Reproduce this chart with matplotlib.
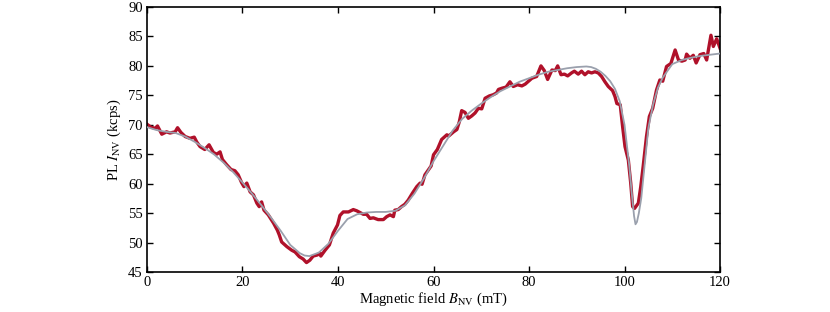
import matplotlib
matplotlib.use('Agg')
import matplotlib.pyplot as plt

plt.rcParams['font.family'] = ['Liberation Serif', 'DejaVu Serif']
plt.rcParams['mathtext.fontset'] = 'stix'

# ── Measured PL (red) ─────────────────────────────────────────────────────────
b_meas = [0.0, 0.8, 1.7, 2.2, 3.1, 4.1, 4.8, 5.9, 6.4, 7.1, 8.0, 9.0, 9.9, 10.4,
          11.1, 12.1, 13.0, 13.9, 14.6, 15.3, 15.8, 16.7, 17.6, 18.4, 19.1, 19.8,
          20.3, 20.9, 21.6, 22.3, 23.0, 23.5, 24.0, 24.5, 25.4, 26.5, 27.3, 27.7,
          28.2, 29.3, 30.3, 31.0, 31.9, 32.7, 33.4, 34.1, 34.8, 35.7, 36.2, 36.4,
          37.3, 38.2, 39.0, 39.9, 40.4, 41.1, 42.2, 43.2, 43.9, 44.6, 45.3, 46.0,
          46.7, 47.4, 48.4, 49.5, 50.2, 50.9, 51.6, 51.9, 52.6, 53.3, 54.0, 54.7,
          55.6, 56.5, 57.2, 57.6, 58.2, 58.9, 59.5, 60.0, 60.8, 61.7, 62.8, 63.2,
          64.2, 64.9, 65.4, 65.9, 66.6, 67.3, 68.0, 68.7, 69.4, 70.1, 70.8, 71.7,
          72.5, 73.2, 73.6, 74.3, 75.2, 76.0, 76.7, 77.6, 78.5, 79.2, 79.9, 80.6,
          81.6, 82.5, 83.2, 83.9, 84.8, 85.5, 86.0, 86.7, 87.4, 88.1, 88.9, 89.5,
          90.3, 91.0, 91.7, 92.4, 93.1, 93.8, 94.5, 95.2, 95.9, 96.6, 97.5, 98.0,
          98.4, 99.1, 99.6, 100.1, 100.8, 101.3, 101.7, 102.1, 102.9, 103.4, 103.9,
          104.6, 105.2, 105.9, 106.7, 107.4, 108.0, 108.8, 109.7, 110.6, 111.3,
          112.0, 112.7, 113.0, 113.7, 114.4, 115.0, 115.8, 116.6, 117.2, 118.1,
          118.6, 119.3, 120.0]
pl_meas = [70.1, 69.6, 69.4, 69.8, 68.4, 68.8, 68.6, 68.8, 69.5, 68.7, 68.0, 67.7,
           67.9, 67.1, 66.3, 65.8, 66.6, 65.3, 65.0, 65.4, 64.1, 63.2, 62.4, 62.2,
           61.5, 60.2, 59.5, 60.1, 58.6, 58.1, 56.7, 56.1, 56.9, 55.5, 54.7, 53.3,
           52.1, 51.3, 50.1, 49.3, 48.7, 48.4, 47.6, 47.2, 46.6, 47.0, 47.7, 47.9,
           48.2, 47.7, 48.7, 49.6, 51.6, 53.0, 54.6, 55.2, 55.2, 55.6, 55.4, 55.1,
           54.8, 54.8, 54.1, 54.2, 53.9, 53.9, 54.4, 54.7, 54.4, 55.5, 55.6, 56.1,
           56.5, 57.2, 58.4, 59.5, 60.1, 59.9, 61.5, 62.3, 63.0, 64.9, 65.8, 67.5,
           68.3, 68.1, 68.8, 69.2, 70.5, 72.4, 72.1, 71.1, 71.5, 72.0, 72.8, 72.7,
           74.5, 74.9, 75.1, 75.4, 76.0, 76.2, 76.4, 77.3, 76.5, 76.8, 76.6, 76.9,
           77.4, 77.9, 78.2, 80.0, 79.2, 77.7, 79.3, 79.2, 80.0, 78.5, 78.6, 78.3,
           78.8, 79.1, 78.6, 79.1, 78.5, 79.0, 78.8, 79.0, 78.8, 78.2, 77.3, 76.5,
           75.8, 74.8, 73.6, 73.4, 69.7, 66.3, 64.0, 60.1, 56.1, 55.8, 56.7, 59.5,
           62.9, 68.0, 71.4, 72.8, 75.9, 77.6, 77.4, 79.9, 80.4, 82.7, 81.0, 80.8,
           81.0, 82.0, 81.3, 81.8, 80.5, 81.9, 82.1, 81.0, 85.2, 83.3, 84.6, 83.0]

# ── Fit (gray) ────────────────────────────────────────────────────────────────
b_fit = [0, 2, 4, 6, 8, 10, 12, 14, 16, 18, 20, 22, 24, 26, 28, 30, 32, 33, 34,
         36, 38, 40, 42, 44, 46, 48, 50, 52, 54, 56, 58, 60, 62, 64, 66, 68, 70,
         72, 74, 76, 78, 80, 82, 84, 86, 88, 90, 92, 93, 94, 95, 96, 97, 98, 99,
         100, 101, 101.5, 102, 102.3, 102.6, 103, 103.5, 104, 104.5, 105, 106,
         107, 108, 110, 112, 114, 116, 118, 120]
pl_fit = [69.6, 69.1, 68.8, 68.6, 68.0, 67.1, 66.1, 65.0, 63.6, 62.0, 60.2, 58.3,
          56.3, 54.2, 52.0, 49.6, 48.2, 47.8, 47.7, 48.3, 49.8, 52.0, 54.0, 54.8,
          55.1, 55.2, 55.2, 55.4, 56.3, 58.3, 60.9, 63.8, 66.4, 69.0, 71.0, 72.4,
          73.6, 74.7, 75.7, 76.5, 77.3, 77.9, 78.5, 79.0, 79.3, 79.6, 79.8, 79.9,
          79.8, 79.5, 79.0, 78.3, 77.4, 76.1, 74.0, 70.0, 63.0, 58.5, 54.5, 53.1,
          53.5, 55.0, 57.5, 61.5, 65.5, 69.5, 73.5, 76.3, 78.0, 80.3, 81.0, 81.4,
          81.7, 81.9, 82.1]

RED  = '#b0112a'
GRAY = '#9aa0ad'

fig = plt.figure(figsize=(8.3, 3.12), dpi=100)
ax = fig.add_axes([0.1771, 0.1282, 0.6904, 0.8494])

ax.plot(b_meas, pl_meas, color=RED, linewidth=2.4, solid_joinstyle='round', zorder=2)
ax.plot(b_fit, pl_fit, color=GRAY, linewidth=1.3, zorder=3)

ax.set_xlim(0, 120)
ax.set_ylim(45, 90)
ax.set_xticks(range(0, 121, 20))
ax.set_yticks(range(45, 91, 5))
ax.tick_params(direction='in', top=True, right=True, labelsize=10.5,
               length=4, width=1, pad=3)
for s in ax.spines.values():
    s.set_linewidth(1.2)

ax.set_xlabel(r'Magnetic field $B_{\rm NV}$ (mT)', fontsize=10.5, labelpad=1)
ax.set_ylabel(r'PL $I_{\rm NV}$ (kcps)', fontsize=10.5, labelpad=4)

fig.savefig('out.png', dpi=100)
